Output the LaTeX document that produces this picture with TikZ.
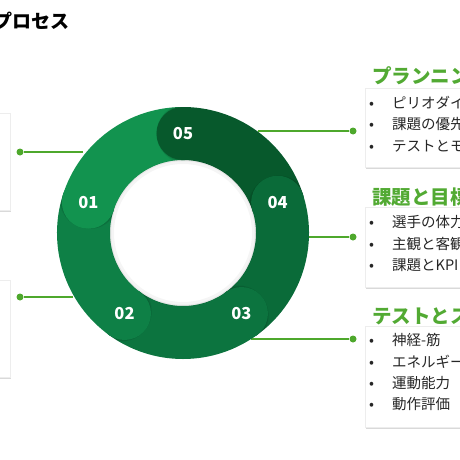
\documentclass[tikz,border=0pt]{standalone}
\usepackage{fontspec}
\setmainfont{Noto Sans CJK JP}
\usetikzlibrary{positioning, shadows}

\definecolor{segA}{HTML}{12934F}
\definecolor{segB}{HTML}{0E8046}
\definecolor{segC}{HTML}{0C743F}
\definecolor{segD}{HTML}{0A6B39}
\definecolor{segE}{HTML}{07592C}
\definecolor{linkgreen}{HTML}{4EA82C}
\definecolor{headgreen}{HTML}{52AA33}

\begin{document}
\begin{tikzpicture}[
		x=1pt, y=1pt,
		ring/.style={line width=53pt},
		numcap/.style={circle, minimum size=53pt, inner sep=0pt, text=white, font=\bfseries\fontsize{16.5}{16.5}\selectfont},
		link/.style={draw=linkgreen, line width=2pt},
		dot/.style={circle, fill=linkgreen, minimum size=7pt, inner sep=0pt},
		panel/.style={draw=black!7, fill=white, drop shadow={opacity=0.3, shadow xshift=1pt, shadow yshift=-1.5pt}},
		heading/.style={anchor=west, inner sep=0pt, text=headgreen, font=\bfseries\fontsize{19.5}{19.5}\selectfont},
		item/.style={anchor=west, inner sep=0pt, text=black!85, font=\fontsize{14.5}{15}\selectfont},
		title/.style={anchor=west, inner sep=0pt, font=\bfseries\fontsize{19}{19}\selectfont}
	]

	\useasboundingbox (0,0) rectangle (460,-460);
	\clip (0,0) rectangle (460,-460);

	% Title
	\node [title] (ttl) at (-7,-21) {プロセス};

	% Side panels
	\node [panel, minimum width=60pt, minimum height=97pt, anchor=north east] (pl1) at (10,-113) {};
	\node [panel, minimum width=60pt, minimum height=97pt, anchor=north east] (pl2) at (10,-280) {};
	\node [panel, minimum width=120pt, minimum height=79pt, anchor=north west] (pr1) at (365,-88) {};
	\node [panel, minimum width=120pt, minimum height=80pt, anchor=north west] (pr2) at (365,-207) {};
	\node [panel, minimum width=120pt, minimum height=101pt, anchor=north west] (pr3) at (365,-326) {};

	% Ring center and connector ends
	\coordinate (ctr) at (183,-233);
	\coordinate (e1) at (83,-152);
	\coordinate (e2) at (73,-297);
	\coordinate (e3) at (258,-131);
	\coordinate (e4) at (308,-237);
	\coordinate (e5) at (251,-339);

	% Dots
	\node [dot] (d1) at (20,-152) {};
	\node [dot] (d2) at (20,-297) {};
	\node [dot] (d3) at (353,-131) {};
	\node [dot] (d4) at (353,-237) {};
	\node [dot] (d5) at (353,-339) {};

	% Connectors
	\path [link] (e1) -- (d1);
	\path [link] (e2) -- (d2);
	\path [link] (e3) -- (d3);
	\path [link] (e4) -- (d4);
	\path [link] (e5) -- (d5);

	% Ring segments
	\draw [ring, segA] ([shift={(163:99.5)}]ctr) arc (163:89:99.5);
	\draw [ring, segB] ([shift={(235:99.5)}]ctr) arc (235:161:99.5);
	\draw [ring, segC] ([shift={(307:99.5)}]ctr) arc (307:233:99.5);
	\draw [ring, segD] ([shift={(19:99.5)}]ctr) arc (19:-55:99.5);
	\draw [ring, segE] ([shift={(91:99.5)}]ctr) arc (91:17:99.5);

	% Soft shade inside the hole
	\draw [black, opacity=0.04, line width=4pt] (ctr) circle (71);
	\draw [black, opacity=0.05, line width=1.5pt] (ctr) circle (72.5);

	% Cap shadows
	\begin{scope}
		\clip ([shift={(90:73)}]ctr) arc (90:162:73) -- ([shift={(162:126)}]ctr) arc (162:90:126) -- cycle;
		\fill [black, opacity=0.08] ([shift={(88:99.5)}]ctr) circle (30);
		\fill [black, opacity=0.10] ([shift={(89:99.5)}]ctr) circle (28);
	\end{scope}
	\begin{scope}
		\clip ([shift={(162:73)}]ctr) arc (162:234:73) -- ([shift={(234:126)}]ctr) arc (234:162:126) -- cycle;
		\fill [black, opacity=0.08] ([shift={(160:99.5)}]ctr) circle (30);
		\fill [black, opacity=0.10] ([shift={(161:99.5)}]ctr) circle (28);
	\end{scope}
	\begin{scope}
		\clip ([shift={(234:73)}]ctr) arc (234:306:73) -- ([shift={(306:126)}]ctr) arc (306:234:126) -- cycle;
		\fill [black, opacity=0.08] ([shift={(232:99.5)}]ctr) circle (30);
		\fill [black, opacity=0.10] ([shift={(233:99.5)}]ctr) circle (28);
	\end{scope}
	\begin{scope}
		\clip ([shift={(306:73)}]ctr) arc (306:378:73) -- ([shift={(378:126)}]ctr) arc (378:306:126) -- cycle;
		\fill [black, opacity=0.08] ([shift={(304:99.5)}]ctr) circle (30);
		\fill [black, opacity=0.10] ([shift={(305:99.5)}]ctr) circle (28);
	\end{scope}
	\begin{scope}
		\clip ([shift={(18:73)}]ctr) arc (18:90:73) -- ([shift={(90:126)}]ctr) arc (90:18:126) -- cycle;
		\fill [black, opacity=0.08] ([shift={(16:99.5)}]ctr) circle (30);
		\fill [black, opacity=0.10] ([shift={(17:99.5)}]ctr) circle (28);
	\end{scope}

	% Numbered caps
	\node [numcap, fill=segA] (n01) at ([shift={(162:99.5)}]ctr) {01};
	\node [numcap, fill=segB] (n02) at ([shift={(234:99.5)}]ctr) {02};
	\node [numcap, fill=segC] (n03) at ([shift={(306:99.5)}]ctr) {03};
	\node [numcap, fill=segD] (n04) at ([shift={(18:99.5)}]ctr) {04};
	\node [numcap, fill=segE] (n05) at ([shift={(90:99.5)}]ctr) {05};

	% Panel 1
	\node [heading] (h1) at (372,-76) {プランニング};
	\node [item] (i11) at (369,-103) {\makebox[23pt][l]{•}ピリオダイゼーション};
	\node [item] (i12) at (369,-124.5) {\makebox[23pt][l]{•}課題の優先順位};
	\node [item] (i13) at (369,-146) {\makebox[23pt][l]{•}テストとモニタリング};

	% Panel 2
	\node [heading] (h2) at (372,-197) {課題と目標};
	\node [item] (i21) at (369,-222) {\makebox[23pt][l]{•}選手の体力};
	\node [item] (i22) at (369,-243.5) {\makebox[23pt][l]{•}主観と客観};
	\node [item] (i23) at (369,-265) {\makebox[23pt][l]{•}課題とKPI};

	% Panel 3
	\node [heading] (h3) at (372,-316) {テストとスクリーニング};
	\node [item] (i31) at (369,-340) {\makebox[23pt][l]{•}神経-筋};
	\node [item] (i32) at (369,-361.5) {\makebox[23pt][l]{•}エネルギー};
	\node [item] (i33) at (369,-383) {\makebox[23pt][l]{•}運動能力};
	\node [item] (i34) at (369,-404.5) {\makebox[23pt][l]{•}動作評価};

\end{tikzpicture}
\end{document}
